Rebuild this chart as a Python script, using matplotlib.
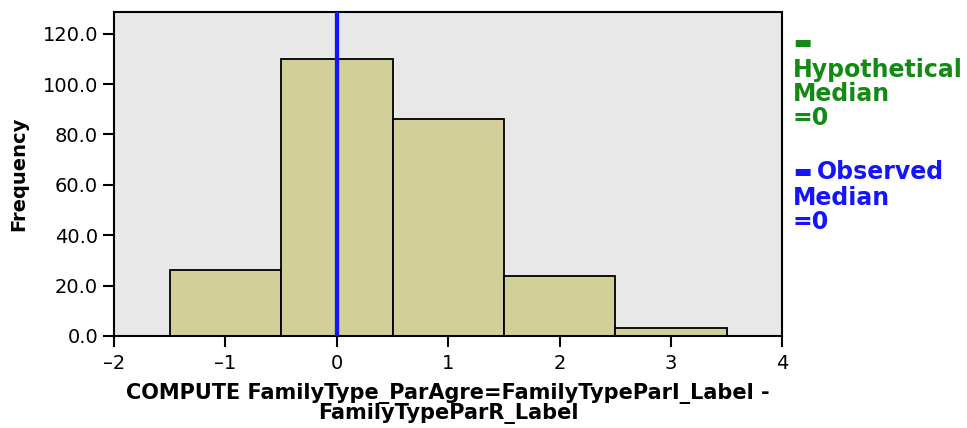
import numpy as np
import matplotlib
matplotlib.use("Agg")
import matplotlib.pyplot as plt

# histogram of difference scores
bin_centers = [-1, 0, 1, 2, 3]
frequencies = [26, 110, 86, 24, 3]
x_ticks = [-2, -1, 0, 1, 2, 3, 4]
y_ticks = [0, 20, 40, 60, 80, 100, 120]
observed_median = 0
hypothetical_median = 0

plt.rcParams['font.family'] = ['DejaVu Sans']

fig = plt.figure(figsize=(9.67, 4.28), dpi=100)
ax = fig.add_axes([0.118, 0.215, 0.691, 0.757])
ax.set_facecolor("#e8e8e8")

ax.bar(bin_centers, frequencies, width=1.0, color="#d3cf99",
       edgecolor="black", linewidth=1.3, zorder=2)
ax.axvline(hypothetical_median, color="#138a13", linewidth=3, zorder=3)
ax.axvline(observed_median, color="#1414ff", linewidth=3, zorder=4)

ax.set_xlim(-2, 4)
ax.set_ylim(0, 128.6)
ax.set_xticks(x_ticks)
ax.set_xticklabels([str(v).replace("-", "\u2013") for v in x_ticks])
ax.set_yticks(y_ticks)
ax.set_yticklabels(["{:.1f}".format(v) for v in y_ticks])
ax.tick_params(axis="both", direction="out", length=8, width=1.5,
               labelsize=14, colors="black")
ax.tick_params(axis="x", pad=5)
for side in ["top", "right", "left", "bottom"]:
    ax.spines[side].set_linewidth(1.5)

ax.set_ylabel("Frequency", fontsize=14, fontweight="bold", labelpad=10)
ax.set_xlabel("COMPUTE FamilyType_ParAgre=FamilyTypeParI_Label -\nFamilyTypeParR_Label",
              fontsize=15, fontweight="bold", linespacing=0.95, labelpad=7)

# legend on the right
fig.text(0.820, 0.900, "\u25ac", color="#138a13", fontsize=14, fontweight="bold",
         family="DejaVu Sans", va="center")
fig.text(0.820, 0.780, "Hypothetical\nMedian\n=0", color="#138a13", fontsize=17,
         fontweight="bold", va="center", linespacing=1.0)
fig.text(0.820, 0.600, "\u25ac", color="#1414ff", fontsize=14, fontweight="bold",
         family="DejaVu Sans", va="center")
fig.text(0.845, 0.598, "Observed", color="#1414ff", fontsize=17,
         fontweight="bold", va="center")
fig.text(0.820, 0.510, "Median\n=0", color="#1414ff", fontsize=17,
         fontweight="bold", va="center", linespacing=1.0)

fig.savefig("out.png", dpi=100)
